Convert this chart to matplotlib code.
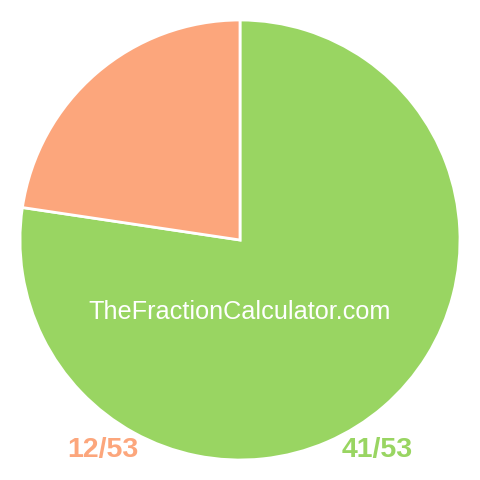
import matplotlib
matplotlib.use("Agg")
import matplotlib.pyplot as plt

labels = ["41/53", "12/53"]
values = [41, 12]
colors = ["#99d562", "#fca67c"]
watermark = "TheFractionCalculator.com"

fig = plt.figure(figsize=(4.8, 4.8), dpi=100)
ax = fig.add_axes([0, 0, 1, 1])

ax.pie(values, colors=colors, startangle=90, counterclock=False,
       radius=220, center=(0, 0), frame=True,
       wedgeprops=dict(edgecolor="white", linewidth=2))
ax.set_xlim(-240, 240)
ax.set_ylim(-240, 240)
ax.set_aspect("equal")
ax.axis("off")

ax.text(0, -72, watermark, color="white", fontsize=18.2,
        family="Liberation Sans", ha="center", va="center")
ax.text(137, -210, labels[0], color=colors[0], fontsize=20.5, fontweight="bold",
        family="Liberation Sans", ha="center", va="center")
ax.text(-137, -210, labels[1], color=colors[1], fontsize=20.5, fontweight="bold",
        family="Liberation Sans", ha="center", va="center")

fig.savefig("out.png", dpi=100)
